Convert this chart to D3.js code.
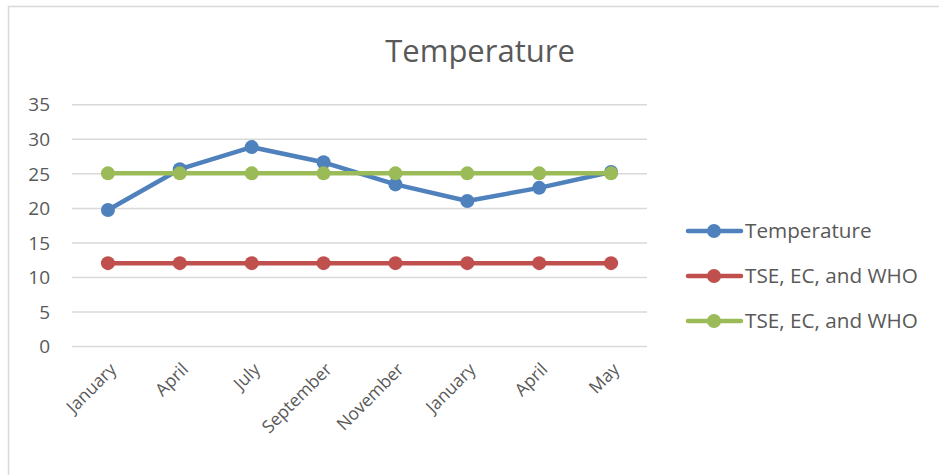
<!DOCTYPE html>
<html><head><meta charset="utf-8">
<script src="https://cdn.jsdelivr.net/npm/d3@7"></script>
<style>body{margin:0;background:#fff;} text{font-family:"Open Sans","Noto Sans",sans-serif;fill:#595959;}</style>
</head><body><svg id="c" width="939" height="475"></svg>
<script>
const categories = ["January","April","July","September","November","January","April","May"];
const temperature = [19.7, 25.6, 28.8, 26.6, 23.4, 21.0, 22.9, 25.2];
const standardA = [12, 12, 12, 12, 12, 12, 12, 12];
const standardB = [25, 25, 25, 25, 25, 25, 25, 25];
const seriesNames = ["Temperature", "TSE, EC, and WHO", "TSE, EC, and WHO"];
const seriesColors = ["#4f81bd", "#c0504d", "#9bbb59"];
const yTicks = [0, 5, 10, 15, 20, 25, 30, 35];

const svg = d3.select("#c");
svg.append("rect").attr("x",8.5).attr("y",6.5).attr("width",940).attr("height",480)
  .attr("fill","#fff").attr("stroke","#d9d9d9").attr("stroke-width",1.5);

const x = d3.scaleBand().domain(d3.range(categories.length)).range([72, 647]);
const y = d3.scaleLinear().domain([0, 35]).range([346, 104.3]);

svg.append("text").attr("x",480).attr("y",62).attr("text-anchor","middle")
  .attr("font-size",31).text("Temperature");

const gy = svg.append("g").attr("transform","translate(72,0)")
  .call(d3.axisLeft(y).tickValues(yTicks).tickSize(-575).tickPadding(22));
gy.select(".domain").remove();
gy.selectAll(".tick line").attr("stroke","#d9d9d9").attr("stroke-width",1.5);
gy.selectAll(".tick text").attr("font-size",19).attr("fill","#595959").attr("dy","0.35em").attr("dx","0");

const gx = svg.append("g").attr("transform","translate(0,346)")
  .call(d3.axisBottom(x).tickFormat(i => categories[i]).tickSize(0));
gx.select(".domain").remove();
gx.selectAll(".tick text").attr("font-size",17.5).attr("fill","#595959")
  .attr("text-anchor","end").attr("transform","translate(3,18) rotate(-45)").attr("dy","0.35em");

const data = [temperature, standardA, standardB];
const line = d3.line().x((d,i) => x(i) + x.bandwidth()/2).y(d => y(d));
data.forEach((s, k) => {
  const g = svg.append("g");
  g.append("path").datum(s).attr("d", line).attr("fill","none")
    .attr("stroke", seriesColors[k]).attr("stroke-width",4.5).attr("stroke-linejoin","round").attr("stroke-linecap","round");
  g.selectAll("circle").data(s).join("circle")
    .attr("cx",(d,i)=>x(i)+x.bandwidth()/2).attr("cy",d=>y(d)).attr("r",7)
    .attr("fill",seriesColors[k]);
});

const lg = svg.append("g");
seriesNames.forEach((n,k) => {
  const yy = 231 + k*45;
  lg.append("line").attr("x1",688).attr("x2",741).attr("y1",yy).attr("y2",yy)
    .attr("stroke",seriesColors[k]).attr("stroke-width",4.5).attr("stroke-linecap","round");
  lg.append("circle").attr("cx",714).attr("cy",yy).attr("r",7).attr("fill",seriesColors[k]);
  lg.append("text").attr("x",745).attr("y",yy).attr("dy","0.35em").attr("font-size",20.7).text(n);
});
</script></body></html>
